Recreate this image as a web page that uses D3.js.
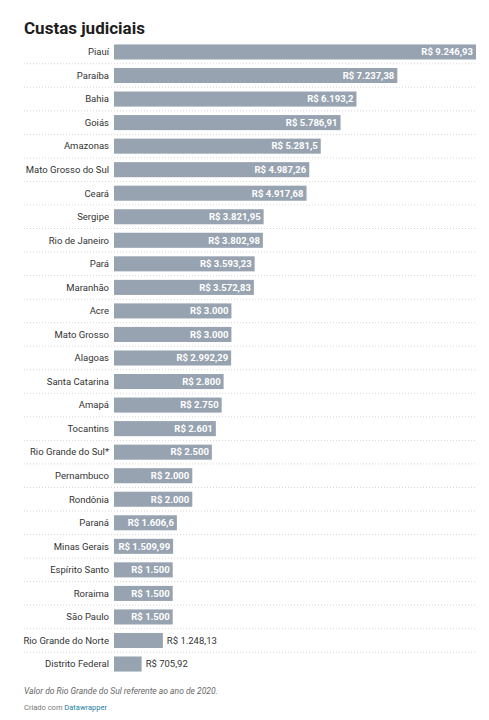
<!DOCTYPE html>
<html><head><meta charset="utf-8">
<script src="https://cdn.jsdelivr.net/npm/d3@7"></script>
<style>body{margin:0;background:#fff;font-family:Roboto,sans-serif}</style>
</head><body><svg width="489" height="720"></svg>
<script>
var states = ["Piauí","Paraíba","Bahia","Goiás","Amazonas","Mato Grosso do Sul","Ceará","Sergipe","Rio de Janeiro","Pará","Maranhão","Acre","Mato Grosso","Alagoas","Santa Catarina","Amapá","Tocantins","Rio Grande do Sul*","Pernambuco","Rondônia","Paraná","Minas Gerais","Espírito Santo","Roraima","São Paulo","Rio Grande do Norte","Distrito Federal"];
var values = [9246.93,7237.38,6193.2,5786.91,5281.5,4987.26,4917.68,3821.95,3802.98,3593.23,3572.83,3000,3000,2992.29,2800,2750,2601,2500,2000,2000,1606.6,1509.99,1500,1500,1500,1248.13,705.92];
var labels = ["R$ 9.246,93","R$ 7.237,38","R$ 6.193,2","R$ 5.786,91","R$ 5.281,5","R$ 4.987,26","R$ 4.917,68","R$ 3.821,95","R$ 3.802,98","R$ 3.593,23","R$ 3.572,83","R$ 3.000","R$ 3.000","R$ 2.992,29","R$ 2.800","R$ 2.750","R$ 2.601","R$ 2.500","R$ 2.000","R$ 2.000","R$ 1.606,6","R$ 1.509,99","R$ 1.500","R$ 1.500","R$ 1.500","R$ 1.248,13","R$ 705,92"];

var svg = d3.select("svg");
var x = d3.scaleLinear().domain([0, 9246.93]).range([114, 476]);
var y = d3.scaleBand().domain(states).range([40.2, 675.8]).paddingInner(0.36).paddingOuter(0.18);

svg.append("text").attr("x", 24).attr("y", 34).attr("font-size", 17).attr("font-weight", 700)
    .attr("fill", "#1d1d1d").text("Custas judiciais");

// separators
svg.selectAll(".sep").data(states.slice(1)).enter().append("line")
    .attr("x1", 24).attr("x2", 476)
    .attr("y1", d => y(d) - y.step() * y.paddingInner() / 2)
    .attr("y2", d => y(d) - y.step() * y.paddingInner() / 2)
    .attr("stroke", "#ccc").attr("stroke-dasharray", "1,2").attr("stroke-width", 0.8);

var row = svg.selectAll(".row").data(states).enter().append("g");
row.append("text").attr("x", 109).attr("y", d => y(d) + y.bandwidth() / 2)
    .attr("dy", "0.35em").attr("text-anchor", "end").attr("font-size", 9.5).attr("fill", "#333")
    .text(d => d);
row.append("rect").attr("x", x(0)).attr("y", d => y(d))
    .attr("width", (d, i) => x(values[i]) - x(0)).attr("height", y.bandwidth())
    .attr("fill", "#98a3b1");
row.append("text")
    .attr("x", (d, i) => values[i] < 1300 ? x(values[i]) + 4 : x(values[i]) - 3)
    .attr("y", d => y(d) + y.bandwidth() / 2).attr("dy", "0.35em")
    .attr("text-anchor", (d, i) => values[i] < 1300 ? "start" : "end")
    .attr("font-size", 9.5)
    .attr("font-weight", (d, i) => values[i] < 1300 ? 400 : 700)
    .attr("fill", (d, i) => values[i] < 1300 ? "#333" : "#fff")
    .text((d, i) => labels[i]);

svg.append("text").attr("x", 24).attr("y", 694).attr("font-size", 8.5).attr("font-style", "italic")
    .attr("fill", "#666").text("Valor do Rio Grande do Sul referente ao ano de 2020.");
var cr = svg.append("text").attr("x", 24).attr("y", 710).attr("font-size", 7.5).attr("fill", "#777");
cr.append("tspan").text("Criado com ");
cr.append("tspan").attr("fill", "#1d81a2").text("Datawrapper");
</script></body></html>
